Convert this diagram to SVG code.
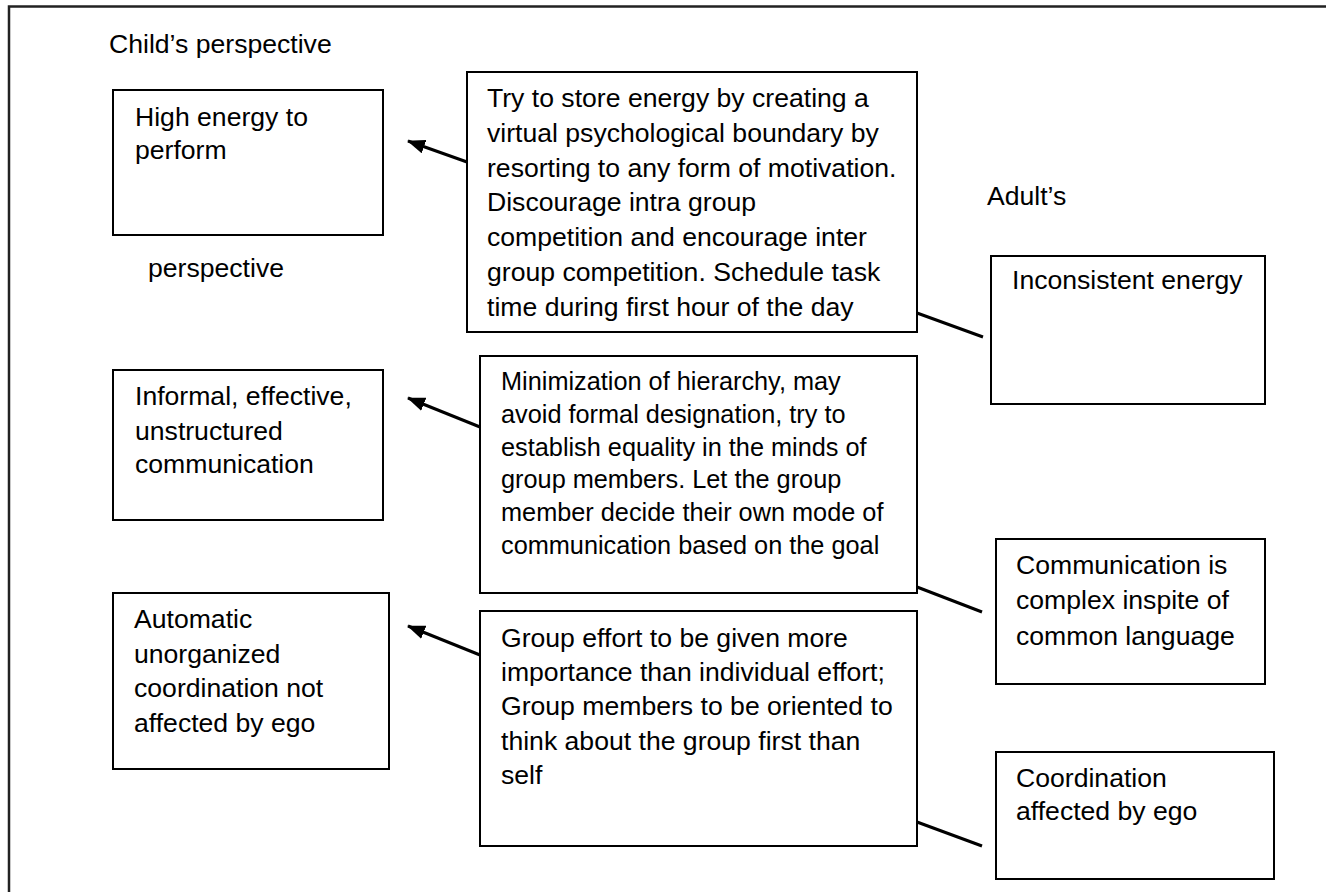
<svg xmlns="http://www.w3.org/2000/svg" width="1326" height="892" viewBox="0 0 1326 892">
<style>
.box{fill:#fff;stroke:#000;stroke-width:2}
.t{font-family:"Liberation Sans",Arial,sans-serif;font-size:26.6px;fill:#000}
.s{font-size:25.3px}
.conn{fill:none;stroke:#000;stroke-width:3}
</style>
<defs>
<marker id="ah" viewBox="0 0 18 14" markerWidth="18" markerHeight="14" refX="17" refY="7" orient="auto" markerUnits="userSpaceOnUse">
<path d="M0,0 L18,7 L0,14 z" fill="#000"/>
</marker>
</defs>
<rect width="1326" height="892" fill="#fff"/>
<g id="frame">
<path d="M9,892 L9,6.5 L1326,6.5" fill="none" stroke="#222" stroke-width="2.5"/>
</g>
<g id="labels">
<text class="t" x="109" y="53">Child’s perspective</text>
<text class="t" x="148" y="277">perspective</text>
<text class="t" x="987" y="205">Adult’s</text>
</g>
<g id="child-energy">
<rect class="box" x="113" y="90" width="270" height="145"/>
<text class="t" x="135" y="126">High energy to</text>
<text class="t" x="135" y="159">perform</text>
</g>
<g id="child-communication">
<rect class="box" x="113" y="370" width="270" height="150"/>
<text class="t" x="135" y="405">Informal, effective,</text>
<text class="t" x="135" y="440">unstructured</text>
<text class="t" x="135" y="473">communication</text>
</g>
<g id="child-coordination">
<rect class="box" x="113" y="593" width="276" height="176"/>
<text class="t" x="134" y="628">Automatic</text>
<text class="t" x="134" y="663">unorganized</text>
<text class="t" x="134" y="697">coordination not</text>
<text class="t" x="134" y="732">affected by ego</text>
</g>
<g id="strategy-energy">
<rect class="box" x="467" y="72" width="450" height="260"/>
<text class="t" x="487" y="107">Try to store energy by creating a</text>
<text class="t" x="487" y="142">virtual psychological boundary by</text>
<text class="t" x="487" y="177">resorting to any form of motivation.</text>
<text class="t" x="487" y="211">Discourage intra group</text>
<text class="t" x="487" y="246">competition and encourage inter</text>
<text class="t" x="487" y="281">group competition. Schedule task</text>
<text class="t" x="487" y="316">time during first hour of the day</text>
</g>
<g id="strategy-communication">
<rect class="box" x="480" y="356" width="437" height="237"/>
<text class="t s" x="501" y="390">Minimization of hierarchy, may</text>
<text class="t s" x="501" y="423">avoid formal designation, try to</text>
<text class="t s" x="501" y="456">establish equality in the minds of</text>
<text class="t s" x="501" y="488">group members. Let the group</text>
<text class="t s" x="501" y="521">member decide their own mode of</text>
<text class="t s" x="501" y="554">communication based on the goal</text>
</g>
<g id="strategy-coordination">
<rect class="box" x="480" y="611" width="437" height="235"/>
<text class="t" x="501" y="647">Group effort to be given more</text>
<text class="t" x="501" y="681">importance than individual effort;</text>
<text class="t" x="501" y="715">Group members to be oriented to</text>
<text class="t" x="501" y="750">think about the group first than</text>
<text class="t" x="501" y="784">self</text>
</g>
<g id="adult-energy">
<rect class="box" x="991" y="256" width="274" height="148"/>
<text class="t" x="1012" y="289">Inconsistent energy</text>
</g>
<g id="adult-communication">
<rect class="box" x="996" y="539" width="269" height="145"/>
<text class="t" x="1016" y="574">Communication is</text>
<text class="t" x="1016" y="609">complex inspite of</text>
<text class="t" x="1016" y="645">common language</text>
</g>
<g id="adult-coordination">
<rect class="box" x="996" y="752" width="278" height="127"/>
<text class="t" x="1016" y="787">Coordination</text>
<text class="t" x="1016" y="820">affected by ego</text>
</g>
<g id="connectors">
<path class="conn" d="M467,162 L408,141" marker-end="url(#ah)"/>
<path class="conn" d="M480,427 L408,398" marker-end="url(#ah)"/>
<path class="conn" d="M480,655 L408,626" marker-end="url(#ah)"/>
<path class="conn" d="M917,313 L983,337"/>
<path class="conn" d="M917,587 L982,612"/>
<path class="conn" d="M917,822 L982,846"/>
</g>
</svg>
